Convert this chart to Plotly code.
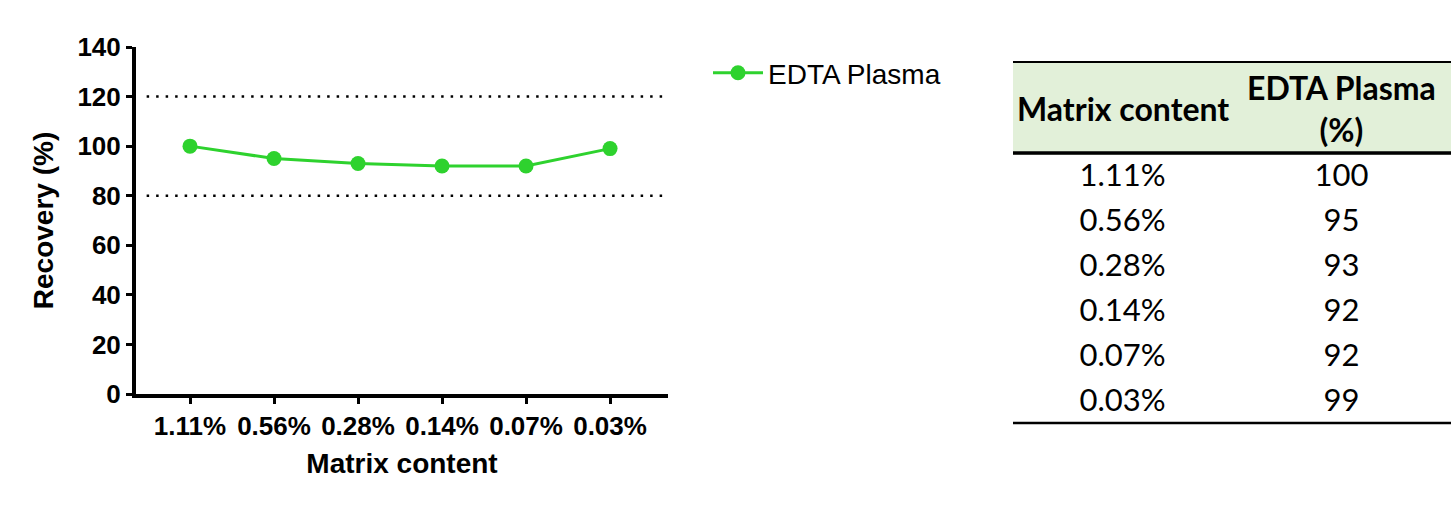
import plotly.graph_objects as go

# data
matrix_content = ["1.11%", "0.56%", "0.28%", "0.14%", "0.07%", "0.03%"]
edta_plasma = [100, 95, 93, 92, 92, 99]
limits = [80, 120]
table_header = ["<b>Matrix content</b>", "<b>EDTA Plasma</b><br><b>(%)</b>"]

W, H = 1451, 506
green = "#2ed22e"
font_plot = "Liberation Sans, Arial, sans-serif"
font_table = "Lato, Calibri, sans-serif"

tab_x0, tab_x1 = 1013 / W, 1.0


def px_y(p):
    return (H - p) / H


fig = go.Figure()

fig.add_trace(go.Scatter(
    x=matrix_content, y=edta_plasma, name="EDTA Plasma",
    mode="lines+markers",
    line=dict(color=green, width=3),
    marker=dict(color=green, size=15),
))

for lim in limits:
    fig.add_shape(type="line", xref="x domain", yref="y",
                  x0=0.02, x1=1, y0=lim, y1=lim,
                  line=dict(color="black", width=2.5, dash="2.5px,7px"))

# table: header band filled by the table, header text centred with annotations
fig.add_trace(go.Table(
    domain=dict(x=[tab_x0, tab_x1], y=[0.0, px_y(62)]),
    columnwidth=[1, 1],
    header=dict(values=["", ""], height=93,
                fill_color="#e2f0d9",
                line=dict(color="rgba(0,0,0,0)", width=0)),
    cells=dict(values=[matrix_content, edta_plasma], height=45,
               fill_color="white", align="center",
               line=dict(color="rgba(0,0,0,0)", width=0),
               font=dict(family=font_table, size=31, color="black")),
))

col_w = (tab_x1 - tab_x0) / len(table_header)
for i, txt in enumerate(table_header):
    fig.add_annotation(xref="paper", yref="paper",
                       x=tab_x0 + col_w * (i + 0.5), y=px_y(108),
                       text=txt, showarrow=False, align="center",
                       xanchor="center", yanchor="middle",
                       font=dict(family=font_table, size=32, color="black"))

# table rules
for yp, lw in [(62, 2), (153, 3.5), (423, 2.5)]:
    fig.add_shape(type="line", xref="paper", yref="paper",
                  x0=tab_x0, x1=tab_x1, y0=px_y(yp), y1=px_y(yp),
                  line=dict(color="black", width=lw))

fig.update_layout(
    width=W, height=H,
    margin=dict(l=0, r=0, t=0, b=0),
    paper_bgcolor="white", plot_bgcolor="white",
    font=dict(family=font_plot, color="black"),
    showlegend=True,
    legend=dict(x=708 / W, y=px_y(73), xanchor="left", yanchor="middle",
                itemwidth=50,
                font=dict(size=28, family=font_plot), bgcolor="rgba(0,0,0,0)"),
    xaxis=dict(
        domain=[136 / W, 668 / W],
        range=[-0.643, 5.69],
        automargin=False,
        showline=True, linewidth=4, linecolor="black",
        ticks="outside", ticklen=6, tickwidth=3, tickcolor="black",
        tickfont=dict(size=26, family=font_plot, weight="bold"),
        showgrid=False, zeroline=False,
        title=dict(text="<b>Matrix content</b>", standoff=14,
                   font=dict(size=28, family=font_plot)),
    ),
    yaxis=dict(
        domain=[px_y(394), px_y(47)],
        range=[0, 140], dtick=20,
        automargin=False,
        showline=True, linewidth=4, linecolor="black",
        ticks="outside", ticklen=6, tickwidth=3, tickcolor="black",
        tickfont=dict(size=26, family=font_plot, weight="bold"),
        showgrid=False, zeroline=False,
        title=dict(text="<b>Recovery (%)</b>", standoff=17,
                   font=dict(size=28, family=font_plot)),
    ),
)

# the page body has a default 8px margin; drop it so the figure fills the window
fig.write_html("out.html", config={"displayModeBar": False},
               post_script="document.body.style.margin='0';")
